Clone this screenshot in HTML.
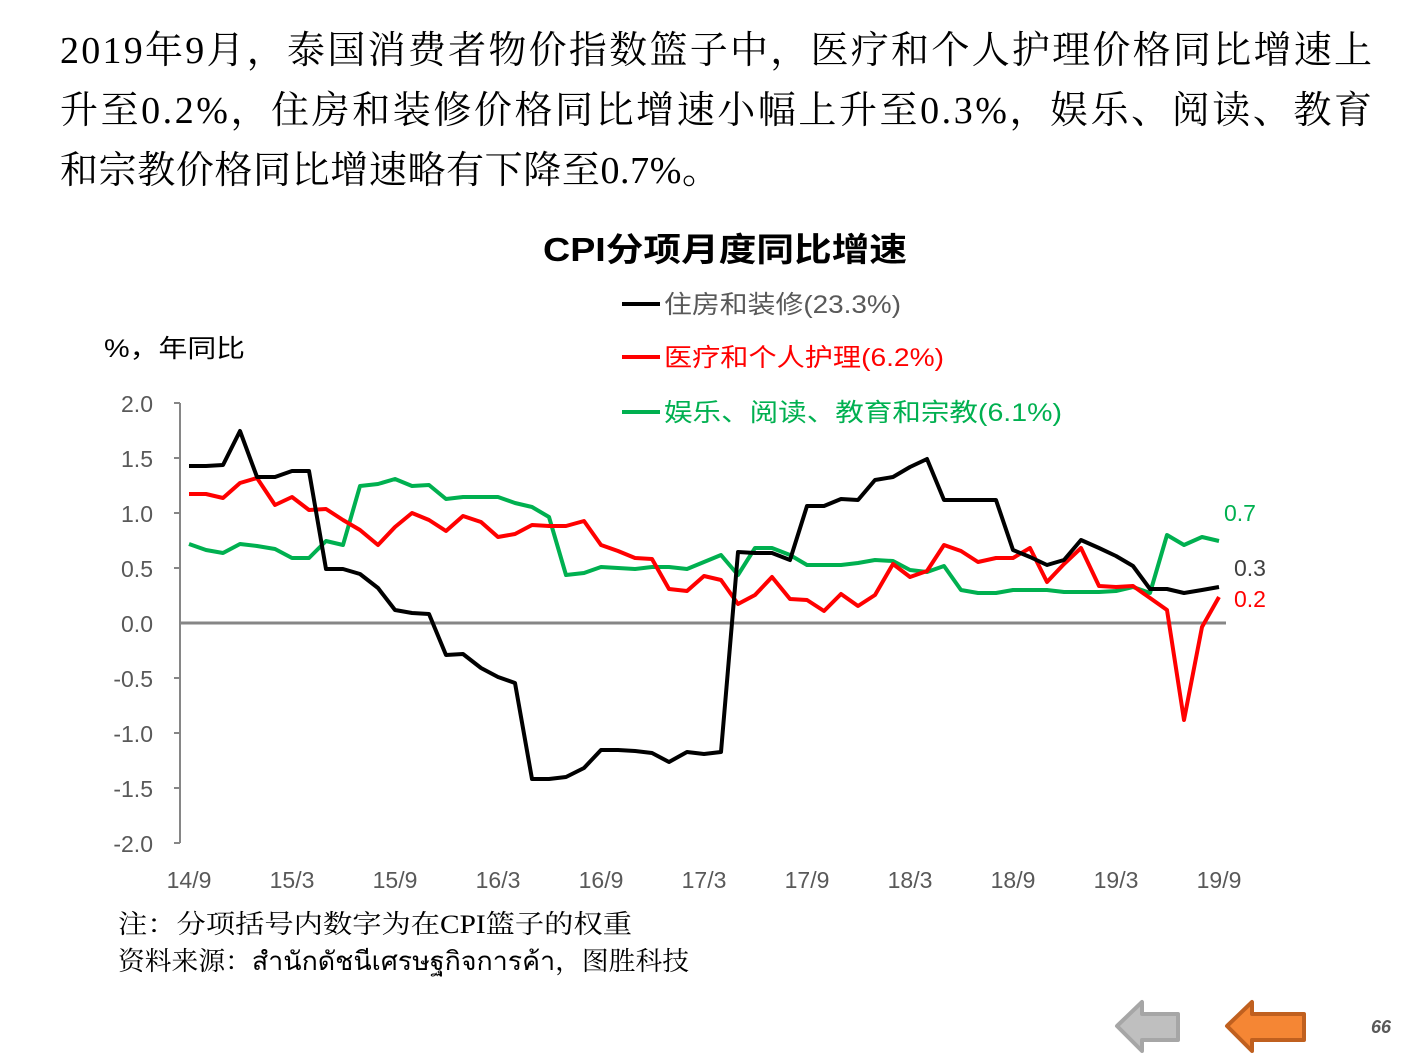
<!DOCTYPE html>
<html><head><meta charset="utf-8"><style>
html,body{margin:0;padding:0;background:#fff;}
svg{display:block;}
.s{font-family:"Liberation Serif","Noto Serif CJK SC",serif;}
.a{font-family:"Liberation Sans","Noto Sans CJK SC",sans-serif;}
</style></head><body>
<svg width="1411" height="1058" viewBox="0 0 1411 1058" xmlns="http://www.w3.org/2000/svg">
<g class="s" font-size="38" fill="#000">
<text x="60" y="63" textLength="1312" lengthAdjust="spacing">2019年9月，泰国消费者物价指数篮子中，医疗和个人护理价格同比增速上</text>
<text x="60" y="123" textLength="1312" lengthAdjust="spacing">升至0.2%，住房和装修价格同比增速小幅上升至0.3%，娱乐、阅读、教育</text>
<text x="60" y="183" textLength="660" lengthAdjust="spacing">和宗教价格同比增速略有下降至0.7%。</text>
</g>
<text class="a" x="543" y="261" font-size="33" font-weight="bold" textLength="364" lengthAdjust="spacingAndGlyphs">CPI分项月度同比增速</text>
<g class="a" font-size="25">
<line x1="622" y1="304" x2="660" y2="304" stroke="#000" stroke-width="4"/>
<text x="664" y="313" fill="#595959" textLength="237" lengthAdjust="spacingAndGlyphs">住房和装修(23.3%)</text>
<line x1="622" y1="357" x2="660" y2="357" stroke="#f00" stroke-width="4"/>
<text x="664" y="366" fill="#f00" textLength="280" lengthAdjust="spacingAndGlyphs">医疗和个人护理(6.2%)</text>
<line x1="622" y1="412" x2="660" y2="412" stroke="#00b050" stroke-width="4"/>
<text x="664" y="421" fill="#00b050" textLength="398" lengthAdjust="spacingAndGlyphs">娱乐、阅读、教育和宗教(6.1%)</text>
</g>
<text class="a" x="104" y="357" font-size="25" fill="#000" textLength="141" lengthAdjust="spacingAndGlyphs">%，年同比</text>
<g stroke="#868686" stroke-width="2">
<line x1="180" y1="403" x2="180" y2="843"/>
<line x1="180" y1="623" x2="1226" y2="623" stroke-width="3"/>
<line x1="174" y1="403" x2="180" y2="403"/><line x1="174" y1="458" x2="180" y2="458"/><line x1="174" y1="513" x2="180" y2="513"/><line x1="174" y1="568" x2="180" y2="568"/><line x1="174" y1="678" x2="180" y2="678"/><line x1="174" y1="733" x2="180" y2="733"/><line x1="174" y1="788" x2="180" y2="788"/><line x1="174" y1="843" x2="180" y2="843"/>
</g>
<g class="a" font-size="23" fill="#595959" text-anchor="end">
<text x="153" y="412">2.0</text><text x="153" y="467">1.5</text><text x="153" y="522">1.0</text><text x="153" y="577">0.5</text><text x="153" y="632">0.0</text><text x="153" y="687">-0.5</text><text x="153" y="742">-1.0</text><text x="153" y="797">-1.5</text><text x="153" y="852">-2.0</text>
</g>
<g class="a" font-size="23" fill="#595959" text-anchor="middle">
<text x="189" y="888">14/9</text><text x="292" y="888">15/3</text><text x="395" y="888">15/9</text><text x="498" y="888">16/3</text><text x="601" y="888">16/9</text><text x="704" y="888">17/3</text><text x="807" y="888">17/9</text><text x="910" y="888">18/3</text><text x="1013" y="888">18/9</text><text x="1116" y="888">19/3</text><text x="1219" y="888">19/9</text>
</g>
<g fill="none" stroke-width="4" stroke-linejoin="round">
<polyline stroke="#00b050" points="189,544 206,550 223,553 240,544 257,546 275,549 292,558 309,558 326,541 343,545 360,486 378,484 395,479 412,486 429,485 446,499 463,497 481,497 498,497 515,503 532,507 549,517 566,575 584,573 601,567 618,568 635,569 652,567 669,567 687,569 704,562 721,555 738,575 755,548 772,548 790,555 807,565 824,565 841,565 858,563 875,560 893,561 910,570 927,572 944,566 961,590 978,593 996,593 1013,590 1030,590 1047,590 1064,592 1081,592 1099,592 1116,591 1133,587 1150,593 1167,535 1184,545 1202,537 1219,541"/>
<polyline stroke="#f00" points="189,494 206,494 223,498 240,483 257,478 275,505 292,497 309,510 326,509 343,520 360,530 378,545 395,527 412,513 429,520 446,531 463,516 481,522 498,537 515,534 532,525 549,526 566,526 584,521 601,545 618,551 635,558 652,559 669,589 687,591 704,576 721,580 738,604 755,595 772,577 790,599 807,600 824,611 841,594 858,606 875,595 893,564 910,577 927,571 944,545 961,551 978,562 996,558 1013,558 1030,548 1047,582 1064,564 1081,548 1099,586 1116,587 1133,586 1150,598 1167,610 1184,720 1202,627 1219,597"/>
<polyline stroke="#000" points="189,466 206,466 223,465 240,431 257,477 275,477 292,471 309,471 326,569 343,569 360,574 378,588 395,610 412,613 429,614 446,655 463,654 481,668 498,677 515,683 532,779 549,779 566,777 584,768 601,750 618,750 635,751 652,753 669,762 687,752 704,754 721,752 738,552 755,553 772,553 790,560 807,506 824,506 841,499 858,500 875,480 893,477 910,467 927,459 944,500 961,500 978,500 996,500 1013,550 1030,557 1047,565 1064,560 1081,540 1099,548 1116,556 1133,566 1150,589 1167,589 1184,593 1202,590 1219,587"/>
</g>
<g class="a" font-size="23">
<text x="1224" y="521" fill="#00b050">0.7</text>
<text x="1234" y="576" fill="#404040">0.3</text>
<text x="1234" y="607" fill="#f00">0.2</text>
</g>
<g class="s" font-size="26" fill="#000">
<text x="118" y="933" textLength="514" lengthAdjust="spacingAndGlyphs">注：分项括号内数字为在CPI篮子的权重</text>
<text x="118" y="970" textLength="571" lengthAdjust="spacingAndGlyphs">资料来源：สำนักดัชนีเศรษฐกิจการค้า，图胜科技</text>
</g>
<polygon points="1117,1026 1142,1002 1142,1014 1178,1014 1178,1040 1142,1040 1142,1051" fill="#bfbfbf" stroke="#a6a6a6" stroke-width="4" stroke-linejoin="round"/>
<polygon points="1227,1026 1252,1002 1252,1014 1304,1014 1304,1040 1252,1040 1252,1051" fill="#f58634" stroke="#c0601f" stroke-width="4" stroke-linejoin="round"/>
<text class="a" x="1381" y="1033" font-size="18" font-style="italic" font-weight="bold" fill="#595959" text-anchor="middle">66</text>
</svg>
</body></html>
